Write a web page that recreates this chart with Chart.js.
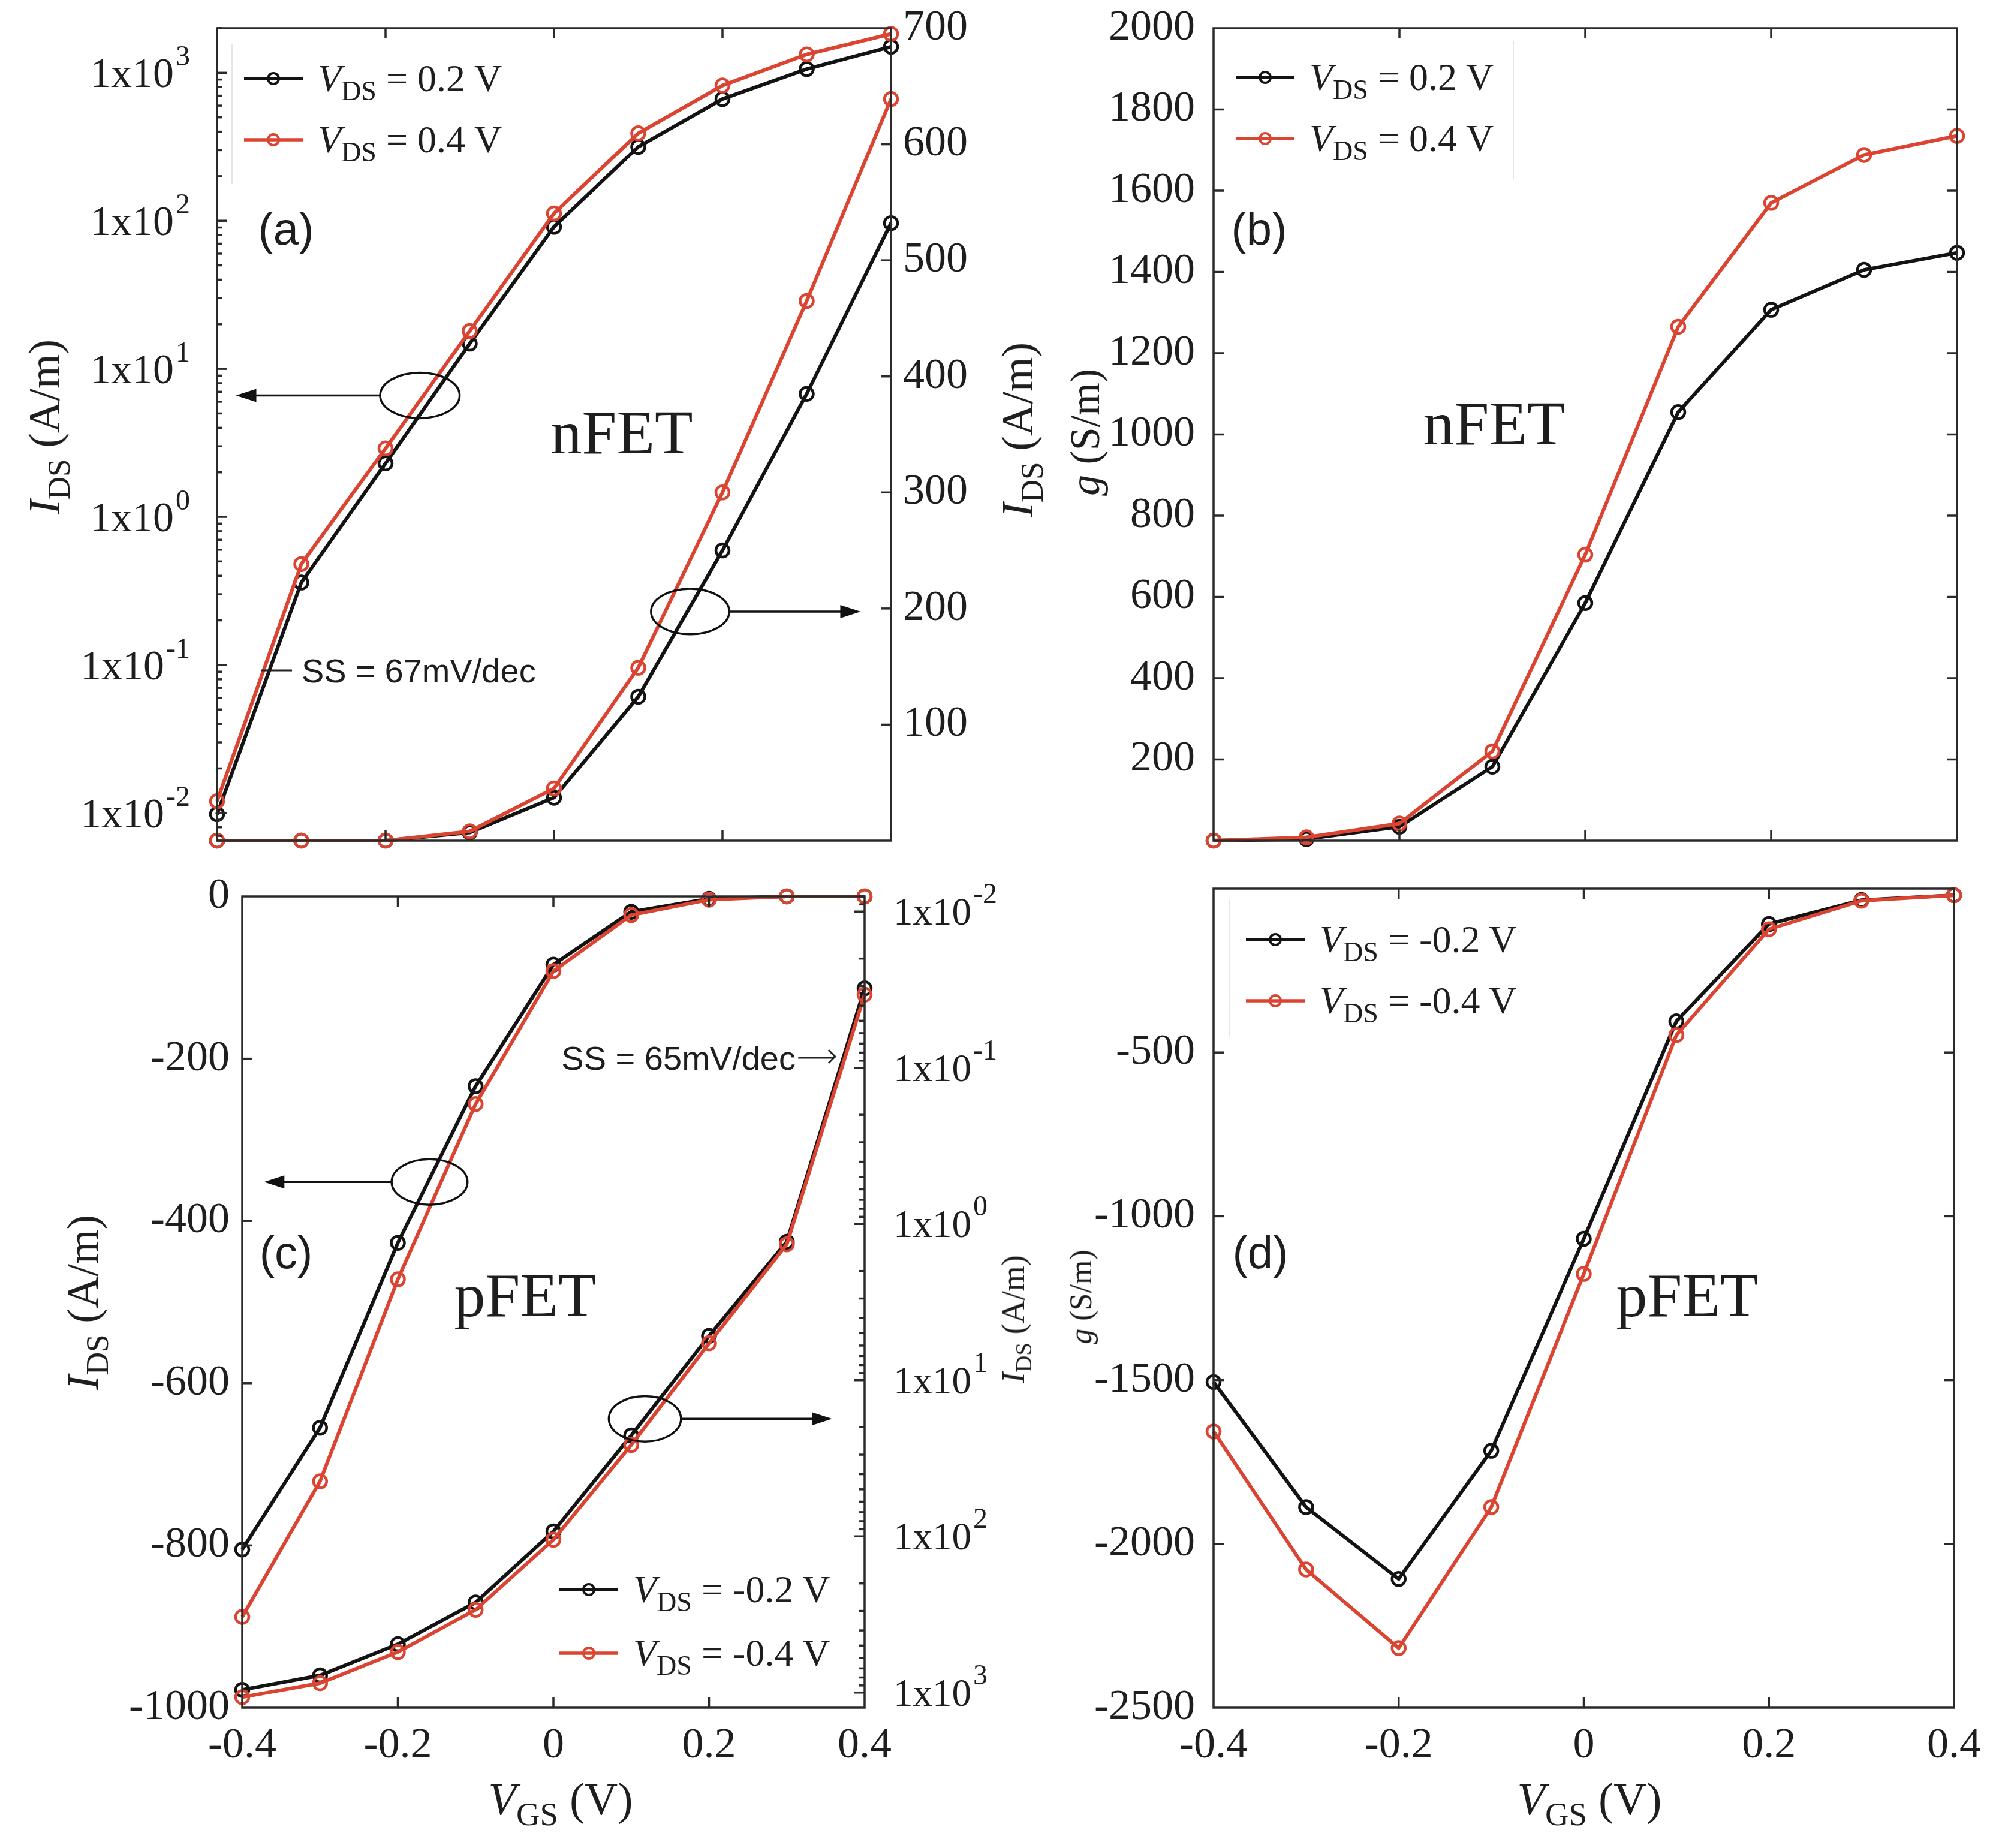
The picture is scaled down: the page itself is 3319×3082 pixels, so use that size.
<!DOCTYPE html>
<html lang="en">
<head>
<meta charset="UTF-8">
<title>nFET / pFET transfer characteristics</title>
<script src="https://cdn.jsdelivr.net/npm/chart.js@4"></script>
<style>
  html, body { margin: 0; padding: 0; background: #fff; }
  #page { position: relative; width: 3319px; height: 3082px; overflow: hidden; background: #fff;
          font-family: 'Liberation Serif', serif; color: #1e1e1e; }
  canvas { position: absolute; }
  .txt { position: absolute; transform: translate(-50%, -50%); white-space: nowrap; line-height: 1; }
  .rot { transform: translate(-50%, -50%) rotate(-90deg); }
  .sans { font-family: 'Liberation Sans', Arial, sans-serif; }
  .sub { font-size: 0.72em; position: relative; top: 0.32em; font-style: normal; }
  .row { position: absolute; display: flex; align-items: center; white-space: nowrap;
         font-size: 64px; line-height: 1; transform: translateY(-50%); }
  .row span.t { margin-left: 25px; }
  .lbox { position: absolute; border-left: 2px solid #e6e6e6; }
</style>
</head>
<body>
<div id="page">
  <canvas id="chartA" width="1720" height="1440" style="left:0px;top:0px"></canvas>
  <canvas id="chartB" width="1579" height="1440" style="left:1740px;top:0px"></canvas>
  <canvas id="chartC" width="1720" height="1632" style="left:0px;top:1450px"></canvas>
  <canvas id="chartD" width="1579" height="1632" style="left:1740px;top:1450px"></canvas>

  <!-- panel labels -->
  <div class="txt sans" style="left:477px;top:382px;font-size:76px">(a)</div>
  <div class="txt sans" style="left:2100px;top:382px;font-size:76px">(b)</div>
  <div class="txt sans" style="left:477px;top:2089px;font-size:76px">(c)</div>
  <div class="txt sans" style="left:2102px;top:2089px;font-size:76px">(d)</div>
  <div class="txt" style="left:1037px;top:721px;font-size:104px">nFET</div>
  <div class="txt" style="left:2492px;top:706px;font-size:104px">nFET</div>
  <div class="txt" style="left:876px;top:2160px;font-size:104px">pFET</div>
  <div class="txt" style="left:2814px;top:2160px;font-size:104px">pFET</div>

  <!-- subthreshold swing notes -->
  <div class="sans" style="position:absolute;left:435px;top:1118px;transform:translateY(-50%);font-size:56px;white-space:nowrap;display:flex;align-items:center">
    <span style="display:inline-block;width:52px;height:3px;background:#222;margin-right:16px"></span>SS = 67mV/dec</div>
  <div class="sans" style="position:absolute;left:1389px;top:1764px;transform:translate(-100%,-50%);font-size:56px;white-space:nowrap;display:flex;align-items:center">SS = 65mV/dec<span style="display:inline-block;position:relative;width:58px;height:3px;background:#222;margin-left:4px"><span style="position:absolute;right:-2px;top:-9px;width:14px;height:14px;border-top:3px solid #222;border-right:3px solid #222;transform:rotate(45deg)"></span></span></div>

  <!-- axis titles -->
  <div class="txt rot" style="left:74px;top:712px;font-size:74px"><i>I</i><span class="sub">DS</span> (A/m)</div>
  <div class="txt rot" style="left:1697px;top:717px;font-size:74px"><i>I</i><span class="sub">DS</span> (A/m)</div>
  <div class="txt rot" style="left:1810px;top:721px;font-size:70px"><i>g</i> (S/m)</div>
  <div class="txt rot" style="left:138px;top:2172px;font-size:74px"><i>I</i><span class="sub">DS</span> (A/m)</div>
  <div class="txt rot" style="left:1690px;top:2200px;font-size:54px"><i>I</i><span class="sub">DS</span> (A/m)</div>
  <div class="txt rot" style="left:1803px;top:2163px;font-size:52px"><i>g</i> (S/m)</div>
  <div class="txt" style="left:935px;top:3000px;font-size:76px"><i>V</i><span class="sub">GS</span> (V)</div>
  <div class="txt" style="left:2651px;top:3000px;font-size:76px"><i>V</i><span class="sub">GS</span> (V)</div>

  <!-- legends -->
  <div class="lbox" style="left:386px;top:74px;height:233px"></div>
  <div class="lbox" style="left:2523px;top:68px;height:230px"></div>
  <div class="lbox" style="left:2049px;top:1500px;height:230px"></div>
  <div id="legends"></div>
</div>

<script>
  // V_GS sweep (x axis, all panels)
  const vgs = [-0.4, -0.3, -0.2, -0.1, 0, 0.1, 0.2, 0.3, 0.4];

  // (a) nFET I_DS (A/m), log scale, left axis
  const nIdsLog02 = [0.0098, 0.36, 2.3, 14.8, 91, 316, 665, 1060, 1500];
  const nIdsLog04 = [0.012, 0.48, 2.9, 18, 112, 390, 820, 1330, 1830];
  // (a) nFET I_DS (A/m), linear scale, right axis
  const nIdsLin02 = [0, 0, 0, 7, 37, 124, 250, 385, 532];
  const nIdsLin04 = [0, 0, 0, 8, 45, 149, 300, 465, 639];

  // (b) nFET g (S/m)
  const nG02 = [0, 4, 34, 182, 585, 1055, 1307, 1405, 1447];
  const nG04 = [0, 8, 42, 220, 704, 1265, 1570, 1688, 1735];

  // (c) pFET I_DS (A/m), linear scale, left axis
  const pIdsLin02 = [-805, -655, -427, -234, -84, -19, -3, 0, 0];
  const pIdsLin04 = [-888, -721, -472, -256, -92, -23, -4, 0, 0];
  // (c) pFET |I_DS| (A/m), log scale (reversed), right axis
  const pIdsLog02 = [960, 776, 490, 265, 93, 22.6, 5.2, 1.3, 0.031];
  const pIdsLog04 = [1070, 870, 550, 295, 105, 26, 5.8, 1.35, 0.034];

  // (d) pFET g (S/m)
  const pG02 = [-1506, -1888, -2107, -1716, -1069, -405, -108, -35, -20];
  const pG04 = [-1657, -2078, -2318, -1888, -1176, -447, -124, -37, -20];

  const nLegend = ['0.2', '0.4'];
  const pLegend = ['-0.2', '-0.4'];

  const BLACK = '#131313';
  const RED = '#dc4432';
  const SERIF = "'Liberation Serif', serif";
  const tickFont = { family: SERIF, size: 72 };

  function series(ys, color, axis, order) {
    return {
      data: vgs.map((x, i) => ({ x: x, y: ys[i] })),
      yAxisID: axis,
      order: order,
      borderColor: color,
      borderWidth: 6,
      pointRadius: 11,
      pointBorderWidth: 4.5,
      pointBorderColor: color,
      pointBackgroundColor: 'rgba(0,0,0,0)',
      tension: 0,
      clip: false
    };
  }

  // fixed axis size, and no label overhang padding (the plot box is placed by hand)
  function sizeAxis(s, w, h) {
    if (w !== undefined) s.width = w;
    if (h !== undefined) s.height = h;
    s.paddingTop = 0; s.paddingBottom = 0; s.paddingLeft = 0; s.paddingRight = 0;
  }

  function xScale(showLabels, h) {
    return {
      type: 'linear', position: 'bottom', min: -0.4, max: 0.4,
      ticks: {
        display: showLabels, stepSize: 0.2, autoSkip: false, maxRotation: 0,
        font: tickFont, color: '#1e1e1e', padding: 21,
        callback: v => Math.abs(v) < 1e-9 ? '0' : v.toFixed(1)
      },
      grid: { display: false, drawTicks: false },
      border: { display: false },
      afterFit: s => sizeAxis(s, undefined, h)
    };
  }

  function linY(pos, min, max, step, w, pad, hideZero) {
    return {
      type: 'linear', position: pos, min: min, max: max,
      ticks: {
        stepSize: step, autoSkip: false, font: tickFont, color: '#1e1e1e', padding: pad,
        callback: v => (hideZero && v === 0) ? '' : String(v)
      },
      grid: { display: false, drawTicks: false },
      border: { display: false },
      afterFit: s => sizeAxis(s, w)
    };
  }

  function logY(pos, min, max, w, reverse) {
    return {
      type: 'logarithmic', position: pos, min: min, max: max, reverse: reverse,
      ticks: { display: false },
      grid: { display: false, drawTicks: false },
      border: { display: false },
      afterFit: s => sizeAxis(s, w)
    };
  }

  function line(ctx, x1, y1, x2, y2) {
    ctx.beginPath(); ctx.moveTo(x1, y1); ctx.lineTo(x2, y2); ctx.stroke();
  }

  // "1x10^n" labels for the log axes
  function logLabel(ctx, px, py, exp, side) {
    const body = '1x10', sup = String(exp);
    const bodySize = side === 'left' ? 70 : 65;
    const supSize = 48;
    const gap = side === 'left' ? 45 : 48;
    ctx.fillStyle = '#1e1e1e';
    ctx.textBaseline = 'alphabetic';
    ctx.textAlign = 'left';
    ctx.font = bodySize + 'px ' + SERIF;
    const bw = ctx.measureText(body).width;
    ctx.font = supSize + 'px ' + SERIF;
    const sw = ctx.measureText(sup).width;
    const x0 = side === 'left' ? px - gap - (bw + sw + 3) : px + gap;
    const yb = py + 0.34 * bodySize;
    ctx.font = bodySize + 'px ' + SERIF;
    ctx.fillText(body, x0, yb);
    ctx.font = supSize + 'px ' + SERIF;
    ctx.fillText(sup, x0 + bw + 3, yb - 36);
  }

  // frame, inward ticks, log labels, ellipse/arrow callouts
  const panelPlugin = {
    id: 'panel',
    afterDraw(chart, args, opts) {
      const ctx = chart.ctx;
      const a = chart.chartArea;
      ctx.save();
      ctx.strokeStyle = '#2a2a2a';
      ctx.lineWidth = 3.5;

      const xs = chart.scales.x;
      xs.ticks.forEach(t => {
        const px = xs.getPixelForValue(t.value);
        if (px < a.left + 3 || px > a.right - 3) return;
        line(ctx, px, a.bottom, px, a.bottom - 17);
        line(ctx, px, a.top, px, a.top + 17);
      });

      Object.values(chart.scales).forEach(s => {
        if (s.axis !== 'y') return;
        const onLeft = s.position === 'left';
        const edges = opts.mirror ? [a.left, a.right] : [onLeft ? a.left : a.right];
        const mark = (py, len) => edges.forEach(ex => {
          const d = ex === a.left ? len : -len;
          line(ctx, ex, py, ex + d, py);
        });
        if (s.type === 'logarithmic') {
          const k0 = Math.floor(Math.log10(s.min)), k1 = Math.ceil(Math.log10(s.max));
          for (let k = k0; k <= k1; k++) {
            for (let m = 1; m <= 9; m++) {
              const v = m * Math.pow(10, k);
              if (v < s.min || v > s.max) continue;
              const py = s.getPixelForValue(v);
              mark(py, m === 1 ? 17 : 9);
              if (m === 1) logLabel(ctx, onLeft ? a.left : a.right, py, k, onLeft ? 'left' : 'right');
            }
          }
        } else {
          s.ticks.forEach(t => {
            if (t.value === s.min || t.value === s.max) return;
            mark(s.getPixelForValue(t.value), 17);
          });
        }
      });

      ctx.strokeRect(a.left, a.top, a.right - a.left, a.bottom - a.top);

      const w = a.right - a.left, h = a.bottom - a.top;
      ctx.strokeStyle = '#111';
      ctx.fillStyle = '#111';
      ctx.lineWidth = 3.5;
      (opts.callouts || []).forEach(c => {
        const cx = a.left + c.cx * w, cy = a.top + c.cy * h;
        const rx = c.rx * w, ry = c.ry * h;
        ctx.beginPath();
        ctx.ellipse(cx, cy, rx, ry, 0, 0, Math.PI * 2);
        ctx.stroke();
        const tx = a.left + c.to * w;
        const dir = Math.sign(tx - cx);
        const sx = cx + dir * rx;
        line(ctx, sx, cy, tx - dir * 20, cy);
        ctx.beginPath();
        ctx.moveTo(tx, cy);
        ctx.lineTo(tx - dir * 34, cy - 11);
        ctx.lineTo(tx - dir * 34, cy + 11);
        ctx.closePath();
        ctx.fill();
      });
      ctx.restore();
    }
  };
  Chart.register(panelPlugin);

  function baseOptions(scales, padding, panel) {
    return {
      responsive: false,
      animation: false,
      devicePixelRatio: 1,
      layout: { padding: padding, autoPadding: false },
      scales: scales,
      plugins: { legend: { display: false }, tooltip: { enabled: false }, panel: panel }
    };
  }

  // nudge layout padding until the plot box sits where the reference has it
  function pin(chart, pad, target) {
    for (let i = 0; i < 4; i++) {
      const a = chart.chartArea;
      const dt = target.top - a.top, db = a.bottom - target.bottom;
      const dl = target.left - a.left, dr = a.right - target.right;
      if (Math.abs(dt) + Math.abs(db) + Math.abs(dl) + Math.abs(dr) < 0.5) break;
      pad.top += dt; pad.bottom += db; pad.left += dl; pad.right += dr;
      chart.update();
    }
  }

  // (a) nFET I_DS, log (left) + linear (right)
  const padA = { top: 47, left: 0, right: 0, bottom: 0 };
  const chartA = new Chart(document.getElementById('chartA'), {
    type: 'line',
    data: {
      datasets: [
        series(nIdsLog02, BLACK, 'yLog', 1),
        series(nIdsLog04, RED, 'yLog', 0),
        series(nIdsLin02, BLACK, 'yLin', 3),
        series(nIdsLin04, RED, 'yLin', 2)
      ]
    },
    options: baseOptions({
      x: xScale(false, 38),
      yLog: logY('left', 0.0065, 2000, 362, false),
      yLin: linY('right', 0, 700, 100, 234, 20, true)
    }, padA, {
      callouts: [
        { cx: 0.301, cy: 0.452, rx: 0.059, ry: 0.028, to: 0.028 },
        { cx: 0.702, cy: 0.718, rx: 0.058, ry: 0.028, to: 0.955 }
      ]
    })
  });
  pin(chartA, padA, { left: 362, right: 1486, top: 47, bottom: 1402 });

  // (b) nFET g
  const padB = { top: 47, left: 0, right: 55, bottom: 0 };
  const chartB = new Chart(document.getElementById('chartB'), {
    type: 'line',
    data: { datasets: [series(nG02, BLACK, 'y', 1), series(nG04, RED, 'y', 0)] },
    options: baseOptions({
      x: xScale(false, 38),
      y: linY('left', 0, 2000, 200, 284, 31, true)
    }, padB, { mirror: true })
  });
  pin(chartB, padB, { left: 284, right: 1524, top: 47, bottom: 1402 });

  // (c) pFET I_DS, linear (left) + log reversed (right)
  const padC = { top: 45, left: 0, right: 0, bottom: 0 };
  const chartC = new Chart(document.getElementById('chartC'), {
    type: 'line',
    data: {
      datasets: [
        series(pIdsLin02, BLACK, 'yLin', 1),
        series(pIdsLin04, RED, 'yLin', 0),
        series(pIdsLog02, BLACK, 'yLog', 3),
        series(pIdsLog04, RED, 'yLog', 2)
      ]
    },
    options: baseOptions({
      x: xScale(true, 234),
      yLin: linY('left', -1000, 0, 200, 404, 21, false),
      yLog: logY('right', 0.008, 1250, 278, true)
    }, padC, {
      callouts: [
        { cx: 0.301, cy: 0.352, rx: 0.061, ry: 0.028, to: 0.035 },
        { cx: 0.647, cy: 0.644, rx: 0.058, ry: 0.028, to: 0.948 }
      ]
    })
  });
  pin(chartC, padC, { left: 404, right: 1442, top: 45, bottom: 1398 });

  // (d) pFET g
  const padD = { top: 32, left: 0, right: 60, bottom: 0 };
  const chartD = new Chart(document.getElementById('chartD'), {
    type: 'line',
    data: { datasets: [series(pG02, BLACK, 'y', 1), series(pG04, RED, 'y', 0)] },
    options: baseOptions({
      x: xScale(true, 234),
      y: linY('left', -2500, 0, 500, 284, 31, true)
    }, padD, { mirror: true })
  });
  pin(chartD, padD, { left: 284, right: 1519, top: 32, bottom: 1398 });

  // HTML legends (subscripts need real markup)
  const legendSpots = [
    { x: 407, y: [131, 233], vals: nLegend },
    { x: 2061, y: [129, 231], vals: nLegend },
    { x: 933, y: [2651, 2757], vals: pLegend },
    { x: 2078, y: [1567, 1669], vals: pLegend }
  ];
  const holder = document.getElementById('legends');
  legendSpots.forEach(spot => {
    spot.vals.forEach((v, i) => {
      const color = i === 0 ? BLACK : RED;
      const row = document.createElement('div');
      row.className = 'row';
      row.style.left = spot.x + 'px';
      row.style.top = spot.y[i] + 'px';
      row.innerHTML =
        '<svg width="98" height="30"><line x1="0" y1="15" x2="98" y2="15" stroke="' + color +
        '" stroke-width="5.5"/><circle cx="49" cy="15" r="9" fill="none" stroke="' + color +
        '" stroke-width="4"/></svg><span class="t"><i>V</i><span class="sub">DS</span> = ' + v + ' V</span>';
      holder.appendChild(row);
    });
  });
</script>
</body>
</html>
